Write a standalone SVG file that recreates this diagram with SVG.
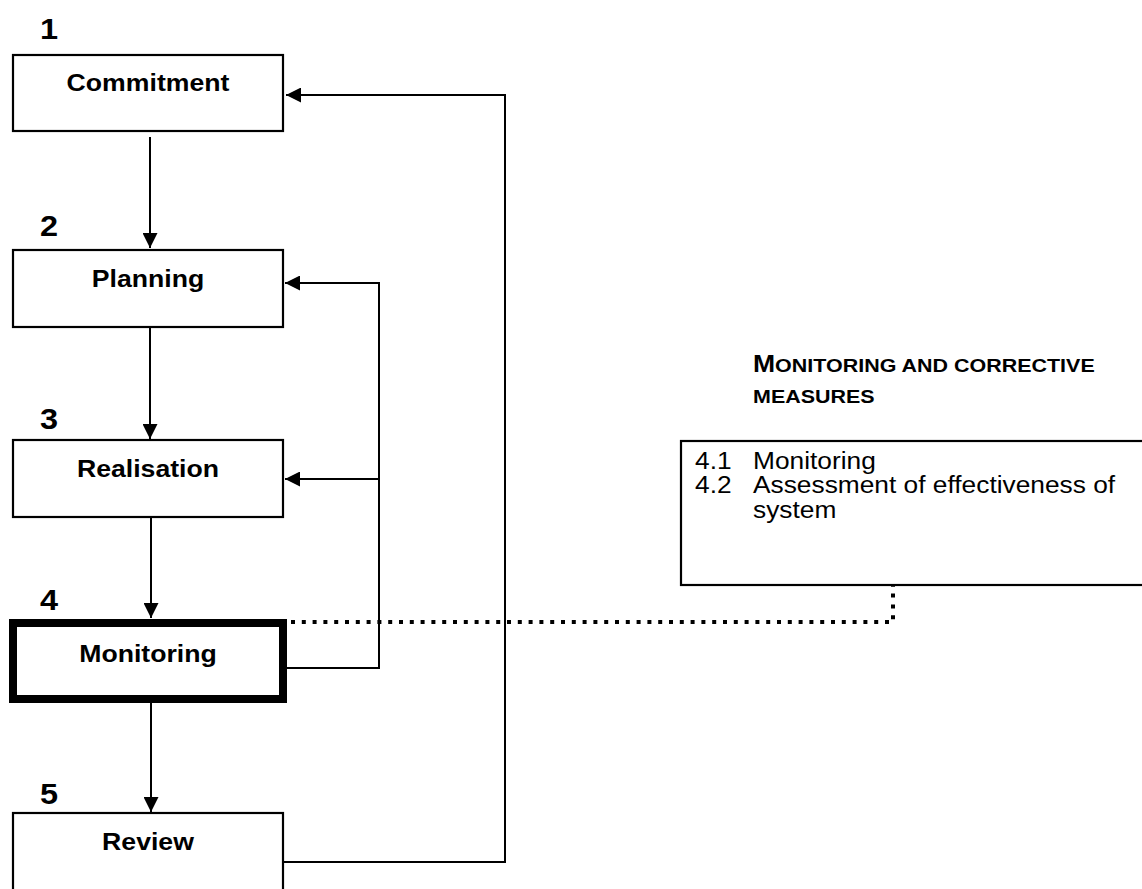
<svg xmlns="http://www.w3.org/2000/svg" width="1142" height="889" viewBox="0 0 1142 889">
<defs>
<style>
.box{fill:#fff;stroke:#000;stroke-width:2.2}
.thick{fill:#fff;stroke:#000;stroke-width:8}
text{font-family:"Liberation Sans",Arial,sans-serif;fill:#000}
.lbl{font-weight:bold;font-size:23.8px;text-anchor:middle}
.num{font-weight:bold;font-size:29px}
.txt{font-size:23.5px}
.hdr{font-weight:bold}
.ln{fill:none;stroke:#000;stroke-width:2}
.dot{fill:none;stroke:#000;stroke-width:4;stroke-dasharray:4 6.8}
</style>
<marker id="ah" viewBox="0 0 10 10" refX="10" refY="5" markerWidth="15" markerHeight="15" markerUnits="userSpaceOnUse" orient="auto">
<path d="M0,0 L10,5 L0,10 Z" fill="#000"/>
</marker>
</defs>
<rect width="1142" height="889" fill="#fff"/>

<g id="connectors">
<line class="ln" x1="150" y1="137" x2="150" y2="248" marker-end="url(#ah)"/>
<line class="ln" x1="150" y1="327" x2="150" y2="439" marker-end="url(#ah)"/>
<line class="ln" x1="151" y1="514" x2="151" y2="618" marker-end="url(#ah)"/>
<line class="ln" x1="151" y1="703" x2="151" y2="812" marker-end="url(#ah)"/>
<polyline class="ln" points="283,862 505,862 505,95 286,95" marker-end="url(#ah)"/>
<polyline class="ln" points="287,668 379,668 379,283 285,283" marker-end="url(#ah)"/>
<line class="ln" x1="379" y1="479" x2="285" y2="479" marker-end="url(#ah)"/>
<polyline class="dot" points="291,622 893,622 893,586"/>
</g>

<g id="n1">
<text class="num" transform="translate(40,39) scale(1.12,1)">1</text>
<rect class="box" x="13" y="55" width="270" height="76"/>
<text class="lbl" transform="translate(148,91) scale(1.12,1)">Commitment</text>
</g>
<g id="n2">
<text class="num" transform="translate(40,236) scale(1.12,1)">2</text>
<rect class="box" x="13" y="250" width="270" height="77"/>
<text class="lbl" transform="translate(148,287) scale(1.12,1)">Planning</text>
</g>
<g id="n3">
<text class="num" transform="translate(40,429) scale(1.12,1)">3</text>
<rect class="box" x="13" y="440" width="270" height="77"/>
<text class="lbl" transform="translate(148,477) scale(1.12,1)">Realisation</text>
</g>
<g id="n4">
<text class="num" transform="translate(40,610) scale(1.12,1)">4</text>
<rect class="thick" x="13" y="623" width="270" height="76"/>
<text class="lbl" transform="translate(148,662) scale(1.12,1)">Monitoring</text>
</g>
<g id="n5">
<text class="num" transform="translate(40,804) scale(1.12,1)">5</text>
<rect class="box" x="13" y="813" width="270" height="100"/>
<text class="lbl" transform="translate(148,850) scale(1.12,1)">Review</text>
</g>

<g id="detail">
<text class="hdr" transform="translate(753,372) scale(1.13,1)"><tspan font-size="23.5">M</tspan><tspan font-size="19">ONITORING AND CORRECTIVE</tspan></text>
<text class="hdr" transform="translate(753,403) scale(1.13,1)" font-size="19">MEASURES</text>
<rect class="box" x="681" y="441" width="500" height="144"/>
<g transform="translate(695,0) scale(1.12,1)">
<text class="txt" x="0" y="469">4.1</text>
<text class="txt" x="51.8" y="469">Monitoring</text>
<text class="txt" x="0" y="493">4.2</text>
<text class="txt" x="51.8" y="493">Assessment of effectiveness of</text>
<text class="txt" x="51.8" y="518">system</text>
</g>
</g>
</svg>
